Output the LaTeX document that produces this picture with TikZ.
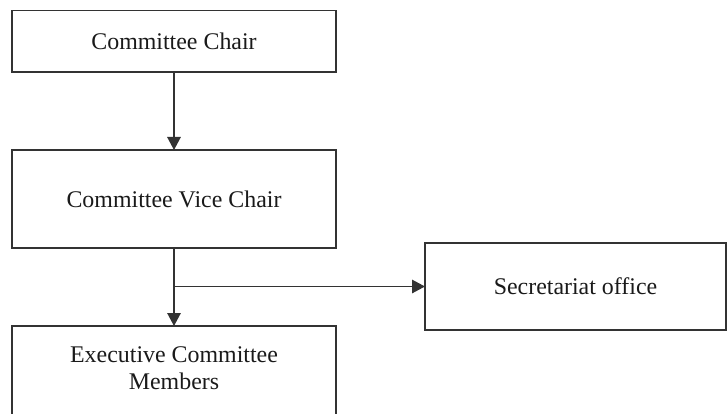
\documentclass[tikz,border=0pt]{standalone}
\usepackage{fontspec}
\setmainfont{Liberation Serif}
\usetikzlibrary{arrows.meta}
\definecolor{linegray}{HTML}{333333}
\definecolor{textgray}{HTML}{1a1a1a}
\begin{document}
\begin{tikzpicture}[x=1pt,y=-1pt,
  box/.style={draw=linegray, line width=1.4pt, rectangle, inner sep=0pt, outer sep=0pt, align=center, text=textgray, font=\fontsize{23.9}{27}\selectfont},
  lbl/.style={inner sep=0pt, outer sep=0pt, align=center, text=textgray, font=\fontsize{23.9}{27}\selectfont},
  arr/.style={draw=linegray, line width=1.4pt, -{Triangle[length=13pt,width=13.5pt]}}]
\useasboundingbox (0,0) rectangle (728,414);
\clip (0,0) rectangle (728,414);
\node[box, minimum width=324pt, minimum height=61.3pt] (chair) at (174,41.35) {Committee Chair};
\node[box, minimum width=324pt, minimum height=98pt] (vice) at (174,199) {Committee Vice Chair};
\node[box, minimum width=301pt, minimum height=87pt] (sec) at (575.5,286.5) {Secretariat office};
\node[box, minimum width=324pt, minimum height=114pt] (exec) at (174,383) {};
\node[lbl] (execlabel) at (174,368) {Executive Committee\\Members};
\coordinate (j) at (174,286.5);
\draw[arr] (chair.south) -- (vice.north);
\draw[arr] (vice.south) -- (exec.north);
\draw[arr] (j) -- (sec.west);
\end{tikzpicture}
\end{document}
